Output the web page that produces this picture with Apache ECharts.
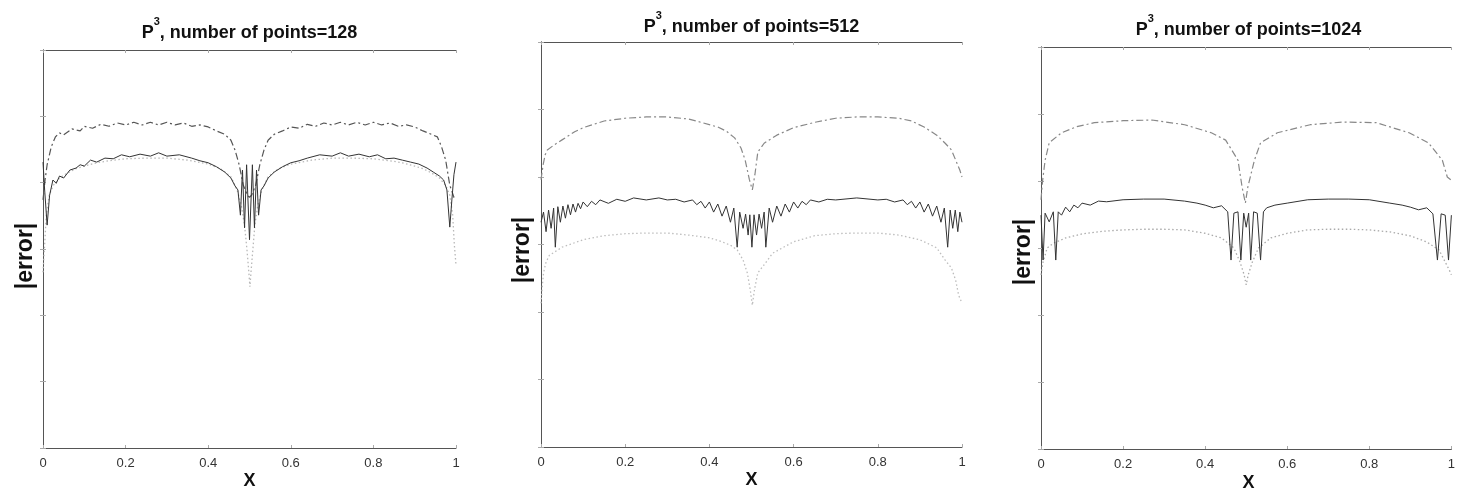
<!DOCTYPE html>
<html>
<head>
<meta charset="utf-8">
<script src="https://cdn.jsdelivr.net/npm/echarts@6/dist/echarts.min.js"></script>
<style>
html,body{margin:0;padding:0;background:#fff;}
#chart{width:1458px;height:495px;}
</style>
</head>
<body>
<div id="chart"></div>
<script>
// ---- data: x in [0,1], y = log10(|error|) ----
const xTickValues = [0, 0.2, 0.4, 0.6, 0.8, 1];
const panelTitles = ['128', '512', '1024'];

const p1DashDot = [[0,-5.26],[0.005,-4.96],[0.01,-4.73],[0.02,-4.46],[0.03,-4.31],[0.04,-4.25],[0.05,-4.28],[0.07,-4.19],[0.09,-4.22],[0.1,-4.15],[0.12,-4.18],[0.14,-4.12],[0.16,-4.15],[0.18,-4.10],[0.2,-4.13],[0.22,-4.09],[0.24,-4.13],[0.26,-4.09],[0.28,-4.13],[0.3,-4.09],[0.32,-4.13],[0.34,-4.10],[0.36,-4.15],[0.38,-4.13],[0.4,-4.16],[0.42,-4.22],[0.44,-4.27],[0.455,-4.36],[0.465,-4.51],[0.475,-4.73],[0.485,-5.04],[0.495,-5.19],[0.5,-5.22],[0.505,-5.19],[0.515,-5.04],[0.525,-4.73],[0.535,-4.51],[0.545,-4.36],[0.56,-4.27],[0.58,-4.22],[0.6,-4.16],[0.62,-4.18],[0.64,-4.12],[0.66,-4.15],[0.68,-4.10],[0.7,-4.13],[0.72,-4.09],[0.74,-4.13],[0.76,-4.09],[0.78,-4.13],[0.8,-4.09],[0.82,-4.13],[0.84,-4.10],[0.86,-4.15],[0.88,-4.13],[0.9,-4.16],[0.92,-4.22],[0.94,-4.27],[0.955,-4.31],[0.965,-4.46],[0.975,-4.66],[0.985,-5.04],[0.995,-5.22],[1,-5.26]];

const p1Solid = [[0,-4.69],[0.004,-5.11],[0.01,-5.64],[0.016,-5.19],[0.024,-4.96],[0.032,-5.01],[0.04,-4.90],[0.05,-4.93],[0.065,-4.81],[0.08,-4.78],[0.09,-4.73],[0.1,-4.75],[0.115,-4.66],[0.13,-4.69],[0.15,-4.63],[0.17,-4.64],[0.19,-4.58],[0.21,-4.61],[0.235,-4.57],[0.26,-4.60],[0.28,-4.55],[0.3,-4.60],[0.33,-4.58],[0.36,-4.63],[0.38,-4.67],[0.4,-4.70],[0.42,-4.76],[0.44,-4.84],[0.455,-4.93],[0.465,-5.05],[0.472,-5.11],[0.478,-5.49],[0.483,-4.81],[0.488,-5.68],[0.493,-4.73],[0.5,-5.86],[0.507,-4.73],[0.512,-5.68],[0.517,-4.81],[0.522,-5.49],[0.528,-5.11],[0.535,-5.05],[0.545,-4.93],[0.56,-4.84],[0.58,-4.76],[0.6,-4.70],[0.62,-4.67],[0.64,-4.63],[0.67,-4.58],[0.7,-4.60],[0.72,-4.55],[0.74,-4.60],[0.765,-4.57],[0.79,-4.61],[0.81,-4.58],[0.83,-4.64],[0.85,-4.63],[0.87,-4.66],[0.89,-4.69],[0.91,-4.72],[0.93,-4.78],[0.945,-4.84],[0.96,-4.90],[0.97,-4.96],[0.978,-5.11],[0.985,-5.67],[0.99,-5.26],[0.995,-4.88],[1,-4.69]];

const p1Dotted = [[0,-6.35],[0.004,-5.94],[0.008,-5.49],[0.015,-5.19],[0.025,-5.04],[0.04,-4.93],[0.06,-4.85],[0.08,-4.79],[0.1,-4.75],[0.13,-4.70],[0.16,-4.67],[0.2,-4.64],[0.25,-4.63],[0.3,-4.63],[0.35,-4.66],[0.4,-4.72],[0.43,-4.79],[0.455,-4.91],[0.47,-5.11],[0.48,-5.34],[0.488,-5.64],[0.494,-6.02],[0.498,-6.32],[0.501,-6.57],[0.504,-6.32],[0.508,-6.02],[0.513,-5.64],[0.52,-5.34],[0.53,-5.11],[0.545,-4.91],[0.57,-4.79],[0.6,-4.72],[0.65,-4.66],[0.7,-4.63],[0.75,-4.63],[0.8,-4.64],[0.84,-4.67],[0.87,-4.70],[0.9,-4.75],[0.92,-4.79],[0.94,-4.85],[0.96,-4.93],[0.975,-5.04],[0.985,-5.19],[0.992,-5.49],[0.996,-5.94],[1,-6.24]];

const p2DashDot = [[0,-5.04],[0.005,-4.82],[0.01,-4.67],[0.015,-4.60],[0.03,-4.53],[0.05,-4.45],[0.08,-4.33],[0.1,-4.27],[0.15,-4.17],[0.2,-4.13],[0.25,-4.11],[0.3,-4.11],[0.35,-4.14],[0.38,-4.19],[0.42,-4.26],[0.44,-4.32],[0.46,-4.42],[0.475,-4.57],[0.485,-4.75],[0.495,-5.04],[0.502,-5.19],[0.508,-4.97],[0.515,-4.63],[0.53,-4.50],[0.56,-4.38],[0.6,-4.27],[0.65,-4.19],[0.7,-4.13],[0.75,-4.11],[0.8,-4.11],[0.85,-4.13],[0.88,-4.17],[0.91,-4.26],[0.94,-4.38],[0.96,-4.50],[0.975,-4.60],[0.985,-4.75],[0.995,-4.90],[1,-5.00]];

const p2Solid = [[0,-5.67],[0.006,-5.52],[0.012,-5.81],[0.018,-5.49],[0.024,-5.76],[0.03,-5.46],[0.034,-6.04],[0.04,-5.44],[0.046,-5.67],[0.052,-5.43],[0.058,-5.61],[0.064,-5.41],[0.07,-5.56],[0.076,-5.40],[0.082,-5.52],[0.088,-5.39],[0.094,-5.47],[0.1,-5.37],[0.11,-5.44],[0.12,-5.36],[0.13,-5.41],[0.14,-5.34],[0.16,-5.39],[0.18,-5.33],[0.2,-5.36],[0.22,-5.31],[0.25,-5.34],[0.28,-5.31],[0.3,-5.34],[0.32,-5.33],[0.34,-5.37],[0.36,-5.34],[0.37,-5.41],[0.38,-5.36],[0.39,-5.46],[0.4,-5.37],[0.41,-5.52],[0.42,-5.40],[0.43,-5.58],[0.44,-5.43],[0.45,-5.67],[0.458,-5.46],[0.466,-6.04],[0.472,-5.52],[0.48,-5.76],[0.486,-5.55],[0.492,-5.86],[0.496,-5.56],[0.501,-6.04],[0.506,-5.56],[0.512,-5.86],[0.518,-5.55],[0.524,-5.76],[0.53,-5.52],[0.534,-6.04],[0.542,-5.46],[0.55,-5.67],[0.56,-5.43],[0.57,-5.58],[0.58,-5.40],[0.59,-5.52],[0.6,-5.37],[0.61,-5.46],[0.62,-5.36],[0.63,-5.41],[0.64,-5.34],[0.66,-5.37],[0.68,-5.33],[0.7,-5.34],[0.75,-5.31],[0.8,-5.34],[0.82,-5.33],[0.84,-5.37],[0.86,-5.34],[0.87,-5.41],[0.88,-5.36],[0.89,-5.46],[0.9,-5.37],[0.91,-5.52],[0.92,-5.40],[0.93,-5.58],[0.94,-5.43],[0.95,-5.67],[0.958,-5.46],[0.966,-6.04],[0.972,-5.49],[0.978,-5.76],[0.984,-5.49],[0.99,-5.81],[0.995,-5.52],[1,-5.67]];

const p2Dotted = [[0,-6.87],[0.003,-6.63],[0.006,-6.42],[0.012,-6.26],[0.02,-6.16],[0.05,-6.04],[0.1,-5.93],[0.15,-5.87],[0.2,-5.84],[0.25,-5.83],[0.3,-5.83],[0.35,-5.86],[0.4,-5.90],[0.43,-5.96],[0.45,-6.01],[0.466,-6.08],[0.48,-6.23],[0.49,-6.42],[0.497,-6.67],[0.502,-6.90],[0.507,-6.67],[0.515,-6.42],[0.53,-6.30],[0.55,-6.13],[0.6,-5.96],[0.65,-5.87],[0.7,-5.84],[0.75,-5.83],[0.8,-5.83],[0.85,-5.86],[0.9,-5.93],[0.94,-6.05],[0.96,-6.23],[0.975,-6.35],[0.985,-6.53],[0.992,-6.75],[1,-6.87]];

const p3DashDot = [[0,-5.28],[0.004,-4.99],[0.01,-4.69],[0.02,-4.43],[0.05,-4.28],[0.087,-4.19],[0.13,-4.13],[0.2,-4.10],[0.27,-4.09],[0.35,-4.16],[0.415,-4.28],[0.45,-4.39],[0.48,-4.69],[0.49,-5.09],[0.498,-5.33],[0.504,-5.09],[0.52,-4.69],[0.535,-4.43],[0.576,-4.28],[0.656,-4.16],[0.737,-4.12],[0.817,-4.13],[0.897,-4.28],[0.944,-4.43],[0.978,-4.69],[0.99,-4.94],[1,-4.99]];

const p3Solid = [[0,-5.51],[0.005,-6.18],[0.01,-5.48],[0.02,-5.61],[0.03,-5.46],[0.036,-6.18],[0.042,-5.46],[0.05,-5.51],[0.06,-5.39],[0.07,-5.46],[0.08,-5.36],[0.09,-5.40],[0.1,-5.33],[0.12,-5.36],[0.14,-5.30],[0.16,-5.31],[0.2,-5.28],[0.25,-5.27],[0.3,-5.27],[0.35,-5.30],[0.38,-5.33],[0.4,-5.36],[0.42,-5.40],[0.44,-5.37],[0.455,-5.46],[0.463,-6.18],[0.47,-5.48],[0.48,-5.46],[0.487,-6.18],[0.494,-5.48],[0.5,-5.69],[0.506,-5.48],[0.511,-6.18],[0.518,-5.46],[0.527,-5.48],[0.535,-6.18],[0.542,-5.46],[0.55,-5.40],[0.57,-5.36],[0.6,-5.33],[0.65,-5.28],[0.7,-5.27],[0.75,-5.27],[0.8,-5.28],[0.85,-5.33],[0.88,-5.36],[0.9,-5.39],[0.92,-5.43],[0.94,-5.40],[0.955,-5.49],[0.966,-6.18],[0.975,-5.49],[0.985,-5.51],[0.993,-6.18],[1,-5.51]];

const p3Dotted = [[0,-6.40],[0.005,-6.21],[0.015,-6.00],[0.03,-5.93],[0.06,-5.85],[0.1,-5.79],[0.15,-5.75],[0.2,-5.73],[0.25,-5.72],[0.3,-5.72],[0.35,-5.73],[0.4,-5.78],[0.44,-5.85],[0.47,-6.00],[0.485,-6.21],[0.495,-6.40],[0.5,-6.55],[0.505,-6.40],[0.515,-6.21],[0.53,-6.00],[0.56,-5.85],[0.6,-5.78],[0.65,-5.73],[0.7,-5.72],[0.75,-5.72],[0.8,-5.73],[0.85,-5.76],[0.9,-5.82],[0.94,-5.91],[0.97,-6.03],[0.985,-6.21],[0.995,-6.33],[1,-6.40]];

// ---- layout ----
const grids = [
  {left: 43, top: 50, width: 413, height: 398},
  {left: 541, top: 42, width: 421, height: 405},
  {left: 1041, top: 47, width: 415, height: 402}
];
const titleY = [29, 23, 26];
const ylabPos = [[26, 256], [523, 250], [1024, 252]];
const xlabY = [481, 480, 483];

const panels = [
  {dd: p1DashDot, solid: p1Solid, dot: p1Dotted, ddColor: '#555', dotColor: '#b8b8b8'},
  {dd: p2DashDot, solid: p2Solid, dot: p2Dotted, ddColor: '#888', dotColor: '#bdbdbd'},
  {dd: p3DashDot, solid: p3Solid, dot: p3Dotted, ddColor: '#888', dotColor: '#aaaaaa'}
];

const axisLineStyle = {show: true, lineStyle: {color: '#555', width: 1}};
const tickStyle = {show: true, inside: true, length: 3, lineStyle: {color: '#aaa'}};
const titleFont = '"Liberation Sans", Arial, sans-serif';

const xAxis = [], yAxis = [], series = [], graphic = [];
grids.forEach((g, i) => {
  xAxis.push({gridIndex: i, type: 'value', min: 0, max: 1, interval: 0.2, position: 'bottom',
    axisLine: axisLineStyle, axisTick: tickStyle, splitLine: {show: false},
    axisLabel: {color: '#333', fontSize: 13, margin: 9, fontFamily: 'Liberation Sans'}});
  xAxis.push({gridIndex: i, type: 'value', min: 0, max: 1, interval: 0.2, position: 'top',
    axisLine: axisLineStyle, axisTick: tickStyle, splitLine: {show: false}, axisLabel: {show: false}});
  yAxis.push({gridIndex: i, type: 'value', min: -9, max: -3, interval: 1, position: 'left',
    axisLine: axisLineStyle, axisTick: tickStyle, splitLine: {show: false}, axisLabel: {show: false}});
  yAxis.push({gridIndex: i, type: 'value', min: -9, max: -3, interval: 1, position: 'right',
    axisLine: axisLineStyle, axisTick: tickStyle, splitLine: {show: false}, axisLabel: {show: false}});
  const p = panels[i];
  series.push({type: 'line', xAxisIndex: 2*i, yAxisIndex: 2*i, data: p.dot, showSymbol: false, silent: true,
    lineStyle: {color: p.dotColor, width: 1.3, type: [1.5, 2.5]}, z: 2});
  series.push({type: 'line', xAxisIndex: 2*i, yAxisIndex: 2*i, data: p.dd, showSymbol: false, silent: true,
    lineStyle: {color: p.ddColor, width: 1.2, type: [7, 3, 2, 3]}, z: 3});
  series.push({type: 'line', xAxisIndex: 2*i, yAxisIndex: 2*i, data: p.solid, showSymbol: false, silent: true,
    lineStyle: {color: '#333', width: 1}, z: 4});
  const cx = g.left + g.width / 2;
  graphic.push({type: 'text', x: cx, y: titleY[i], style: {
    text: '{n|P}{s|3}{n|, number of points=' + panelTitles[i] + '}',
    align: 'center', verticalAlign: 'middle', fill: '#111',
    font: 'bold 18px ' + titleFont,
    rich: {
      n: {fontSize: 18, fontWeight: 'bold', fontFamily: titleFont, lineHeight: 26, verticalAlign: 'bottom', fill: '#111'},
      s: {fontSize: 11, fontWeight: 'bold', fontFamily: titleFont, lineHeight: 12, verticalAlign: 'top', fill: '#111'}
    }
  }});
  graphic.push({type: 'text', x: ylabPos[i][0], y: ylabPos[i][1], rotation: Math.PI / 2, style: {
    text: '|error|', align: 'center', verticalAlign: 'middle', fill: '#111',
    font: 'bold 23px ' + titleFont}});
  graphic.push({type: 'text', x: cx, y: xlabY[i], style: {
    text: 'X', align: 'center', verticalAlign: 'middle', fill: '#111',
    font: 'bold 18px ' + titleFont}});
});

const chart = echarts.init(document.getElementById('chart'), null, {renderer: 'canvas'});
chart.setOption({
  animation: false,
  backgroundColor: '#fff',
  grid: grids,
  xAxis: xAxis,
  yAxis: yAxis,
  series: series,
  graphic: graphic
});
</script>
</body>
</html>
